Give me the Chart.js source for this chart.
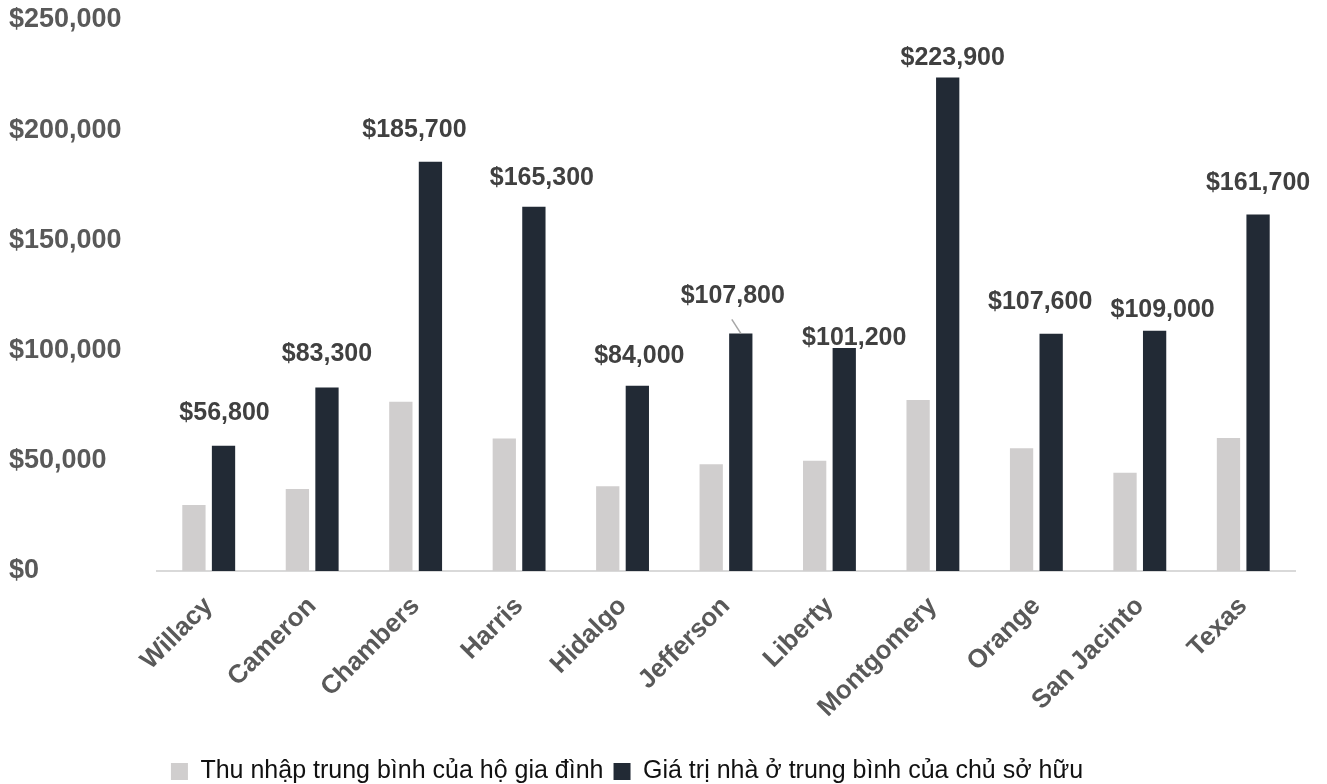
<!DOCTYPE html>
<html lang="vi">
<head>
    <meta charset="UTF-8">
    <title>Thu nhập và giá trị nhà ở</title>
    <script src="https://cdn.jsdelivr.net/npm/chart.js"></script>
    <style>
        body { margin: 0; background: #fff; }
        #wrap { width: 1327px; height: 784px; }
    </style>
</head>
<body>
    <div id="wrap">
        <canvas id="chart-area" width="1327" height="784"></canvas>
    </div>
    <script>
        // counties on the x axis
        var counties = ['Willacy', 'Cameron', 'Chambers', 'Harris', 'Hidalgo', 'Jefferson',
                        'Liberty', 'Montgomery', 'Orange', 'San Jacinto', 'Texas'];

        // median household income (light bars)
        var householdIncome = [29900, 37200, 76800, 60100, 38400, 48400,
                               50000, 77600, 55700, 44600, 60300];

        // median owner-occupied home value (dark bars, labelled)
        var homeValue = [56800, 83300, 185700, 165300, 84000, 107800,
                         101200, 223900, 107600, 109000, 161700];

        var seriesNames = ['Thu nhập trung bình của hộ gia đình',
                           'Giá trị nhà ở trung bình của chủ sở hữu'];

        var yTicks = [0, 50000, 100000, 150000, 200000, 250000];

        var FONT = "'Liberation Sans', Arial, sans-serif";

        function money(v) {
            return '$' + v.toLocaleString('en-US');
        }

        // labels were nudged by hand in the original, keep that
        var labelNudge = [[1, 33], [0, 33], [-16, 32], [8, 29], [2, 30], [-8, 37],
                          [10, 10], [5, 19], [-11, 32], [8, 21], [0, 32]];
        var leaderFor = 5; // Jefferson has a small leader line

        var valueLabels = {
            id: 'valueLabels',
            afterDatasetsDraw: function (chart) {
                var ctx = chart.ctx;
                var meta = chart.getDatasetMeta(1);
                ctx.save();
                ctx.font = 'bold 25px ' + FONT;
                ctx.fillStyle = '#404040';
                ctx.textAlign = 'center';
                ctx.textBaseline = 'middle';
                for (var i = 0; i < meta.data.length; i++) {
                    var bar = meta.data[i];
                    var n = labelNudge[i];
                    ctx.fillText(money(homeValue[i]), bar.x + n[0], bar.y - n[1]);
                    if (i === leaderFor) {
                        ctx.strokeStyle = '#A6A6A6';
                        ctx.lineWidth = 1.5;
                        ctx.beginPath();
                        ctx.moveTo(bar.x, bar.y);
                        ctx.lineTo(bar.x - 9, bar.y - 14);
                        ctx.stroke();
                    }
                }
                ctx.restore();
            }
        };

        // legend in the original sits a bit left of centre and low
        var legendShift = {
            id: 'legendShift',
            afterLayout: function (chart) {
                var lg = chart.legend;
                lg.left -= 25;
                lg.right -= 25;
                lg.top += 10;
                lg.bottom += 10;
            }
        };

        var config = {
            type: 'bar',
            data: {
                labels: counties,
                datasets: [{
                    label: seriesNames[0],
                    data: householdIncome,
                    backgroundColor: '#D0CECE',
                    categoryPercentage: 0.572,
                    barPercentage: 0.787
                }, {
                    label: seriesNames[1],
                    data: homeValue,
                    backgroundColor: '#222A35',
                    categoryPercentage: 0.572,
                    barPercentage: 0.787
                }]
            },
            options: {
                responsive: false,
                animation: false,
                layout: {
                    padding: { top: 20, left: 9, right: 32, bottom: 0 }
                },
                plugins: {
                    legend: {
                        position: 'bottom',
                        labels: {
                            boxWidth: 17,
                            boxHeight: 17,
                            padding: 10,
                            color: '#111',
                            font: { family: FONT, size: 25 }
                        }
                    },
                    tooltip: { enabled: false }
                },
                scales: {
                    x: {
                        grid: { display: false, drawTicks: false },
                        border: { display: true, color: '#D9D9D9', width: 2 },
                        ticks: {
                            minRotation: 45,
                            maxRotation: 45,
                            autoSkip: false,
                            padding: 20,
                            color: '#595959',
                            font: { family: FONT, size: 26, weight: 'bold' }
                        },
                        afterFit: function (scale) {
                            scale.height = 168;
                        }
                    },
                    y: {
                        min: 0,
                        max: 250000,
                        grid: { display: false, drawTicks: false },
                        border: { display: false },
                        afterBuildTicks: function (scale) {
                            scale.ticks = yTicks.map(function (v) { return { value: v }; });
                        },
                        ticks: {
                            crossAlign: 'far',
                            color: '#595959',
                            font: { family: FONT, size: 27, weight: 'bold' },
                            callback: function (v) { return money(v); }
                        },
                        afterFit: function (scale) {
                            scale.width = 148;
                        }
                    }
                }
            },
            plugins: [valueLabels, legendShift]
        };

        var ctx = document.getElementById('chart-area').getContext('2d');
        window.myBar = new Chart(ctx, config);
    </script>
</body>
</html>
